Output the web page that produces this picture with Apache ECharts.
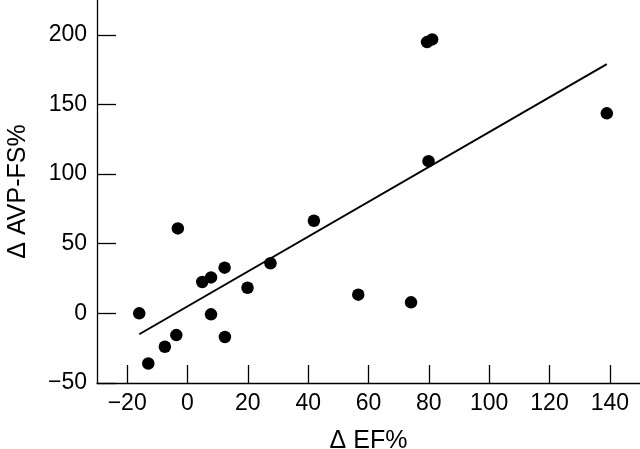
<!DOCTYPE html>
<html>
<head>
<meta charset="utf-8">
<script src="https://cdn.jsdelivr.net/npm/echarts@6/dist/echarts.min.js"></script>
<style>
  html, body { margin: 0; padding: 0; background: #fff; }
  #chart { width: 640px; height: 449px; }
</style>
</head>
<body>
<div id="chart"></div>
<script>
// change in EF% vs change in AVP-FS%
const efChange = [-16, -13, -7.5, -3.7, -3.2, 4.9, 7.8, 7.8, 12.3, 12.4, 19.9, 27.5, 41.9, 56.6, 74.1, 79.9, 79.4, 81.1, 139];
const avpChange = [0, -36, -24, -15.6, 61, 22.5, 25.8, -0.7, 32.8, -17, 18.4, 36, 66.5, 13.4, 7.9, 109.3, 194.8, 196.7, 143.6];

// fitted line end points
const fitX = [-16, 139];
const fitY = [-15, 179];

const xTicks = [-20, 0, 20, 40, 60, 80, 100, 120, 140];
const yTicks = [-50, 0, 50, 100, 150, 200];

const chart = echarts.init(document.getElementById("chart"));

const fontFamily = "Liberation Sans, Arial, Helvetica, sans-serif";
const minus = (v) => String(v).replace("-", "\u2212");

const points = efChange.map((x, i) => [x, avpChange[i]]);
const fitLine = fitX.map((x, i) => [x, fitY[i]]);

const option = {
  animation: false,
  backgroundColor: "#fff",
  grid: { left: 97, right: 0, top: 0, bottom: 66, containLabel: false, outerBoundsMode: "none" },
  xAxis: {
    type: "value",
    min: -30,
    max: 150,
    name: "\u0394 EF%",
    nameLocation: "middle",
    nameGap: 46,
    nameTextStyle: { color: "#000", fontSize: 25, fontFamily: fontFamily },
    axisLine: { onZero: false, lineStyle: { color: "#000", width: 1.3 } },
    axisTick: {
      inside: true,
      length: 18,
      customValues: xTicks,
      lineStyle: { color: "#000", width: 1.3 },
    },
    axisLabel: {
      customValues: xTicks,
      margin: 9,
      color: "#000",
      fontSize: 23,
      fontFamily: fontFamily,
      formatter: minus,
    },
    splitLine: { show: false },
  },
  yAxis: {
    type: "value",
    min: -50,
    max: 225,
    name: "\u0394 AVP-FS%",
    nameLocation: "middle",
    nameGap: 66,
    nameTextStyle: { color: "#000", fontSize: 25, fontFamily: fontFamily },
    axisLine: { onZero: false, lineStyle: { color: "#000", width: 1.3 } },
    axisTick: {
      inside: true,
      length: 19,
      customValues: yTicks,
      lineStyle: { color: "#000", width: 1.3 },
    },
    axisLabel: {
      customValues: yTicks,
      margin: 10,
      color: "#000",
      fontSize: 23,
      fontFamily: fontFamily,
      formatter: minus,
    },
    splitLine: { show: false },
  },
  series: [
    {
      type: "line",
      data: fitLine,
      showSymbol: false,
      lineStyle: { color: "#000", width: 2 },
      z: 1,
    },
    {
      type: "scatter",
      data: points,
      symbol: "circle",
      symbolSize: 12.5,
      itemStyle: { color: "#000", opacity: 1 },
      z: 2,
    },
  ],
};

chart.setOption(option);
</script>
</body>
</html>
